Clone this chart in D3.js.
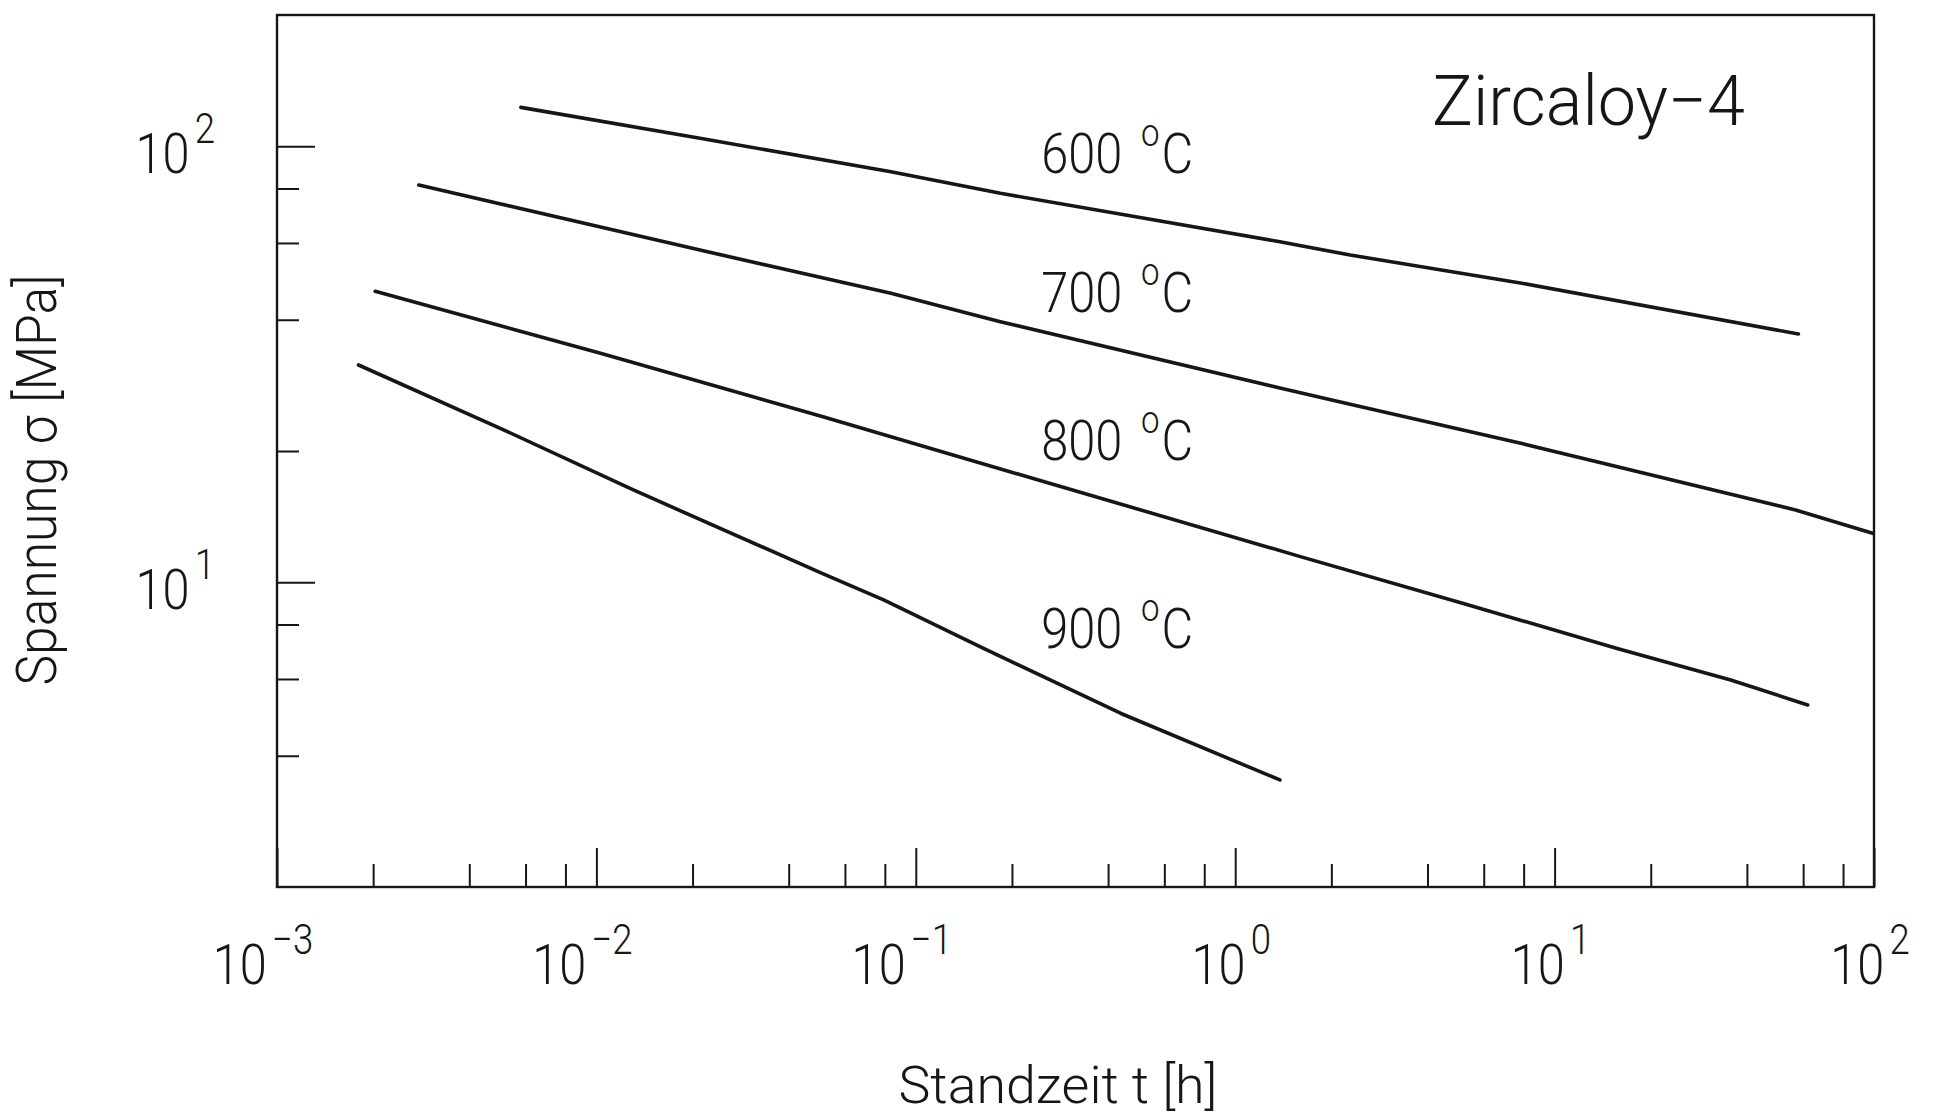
<!DOCTYPE html>
<html>
<head>
<meta charset="utf-8">
<script src="https://cdn.jsdelivr.net/npm/d3@7"></script>
<style>
  html, body { margin: 0; padding: 0; background: #fff; }
  svg { display: block; }
  text { font-family: Roboto, "Liberation Sans", sans-serif; font-weight: 300; fill: #161616; }
</style>
</head>
<body>
<svg id="chart" width="1937" height="1117"></svg>
<script>
// Creep rupture curves of Zircaloy-4: stress versus time to rupture
const material = "Zircaloy\u22124";
const temperatures = ["600", "700", "800", "900"];

// time to rupture t [h] and stress σ [MPa] along each isotherm
const time600   = [0.0058, 0.0211, 0.0836, 0.184, 1.38, 2.29, 7.9, 58];
const stress600 = [122.8, 104.3, 87.4, 78.0, 60.4, 56.3, 48.5, 37.1];

const time700   = [0.00278, 0.0211, 0.0836, 0.184, 1.38, 2.29, 7.9, 56.8, 99];
const stress700 = [81.5, 57.8, 46.0, 39.6, 27.9, 25.6, 20.8, 14.65, 12.95];

const time800   = [0.00203, 0.0103, 0.0509, 0.239, 1.6, 5.15, 15.7, 35.6, 62];
const stress800 = [46.5, 33.5, 24.0, 17.2, 11.45, 8.95, 7.05, 5.97, 5.23];

const time900   = [0.0018, 0.005, 0.013, 0.0509, 0.0793, 0.163, 0.439, 1.38];
const stress900 = [31.5, 22.55, 16.3, 10.48, 9.11, 7.05, 5.0, 3.52];

// where each isotherm is labelled (t, σ of the label baseline start)
const labelTime = 0.247;
const labelStress = [87, 41.6, 19.07, 7.05];

// axes
const xDomain = [1e-3, 1e2];
const yDomain = [2, 200];
const xMajorTicks = [1e-3, 1e-2, 1e-1, 1, 10, 100];
const xTickExponents = ["\u22123", "\u22122", "\u22121", "0", "1", "2"];
const xMinorTicks = [2e-3, 4e-3, 6e-3, 8e-3, 2e-2, 4e-2, 6e-2, 8e-2,
                     0.2, 0.4, 0.6, 0.8, 2, 4, 6, 8, 20, 40, 60, 80];
const yMajorTicks = [10, 100];
const yTickExponents = ["1", "2"];
const yMinorTicks = [4, 6, 8, 20, 40, 60, 80];
const xTitle = "Standzeit t [h]";
const yTitle = "Spannung \u03c3 [MPa]";

const series = [
  { name: temperatures[0], t: time600, s: stress600 },
  { name: temperatures[1], t: time700, s: stress700 },
  { name: temperatures[2], t: time800, s: stress800 },
  { name: temperatures[3], t: time900, s: stress900 }
];

const margin = { left: 277, top: 15, right: 63, bottom: 230 };
const W = 1937, H = 1117;
const iw = W - margin.left - margin.right;
const ih = H - margin.top - margin.bottom;

const svg = d3.select("#chart");
const g = svg.append("g").attr("transform", `translate(${margin.left},${margin.top})`);

const x = d3.scaleLog().domain(xDomain).range([0, iw]);
const y = d3.scaleLog().domain(yDomain).range([ih, 0]);

const ink = "#161616";
const numScale = 0.87;   // digits are set slightly condensed

// inward-pointing ticks on the bottom and left axes
function tickAxis(axis, transform) {
  const a = g.append("g").attr("transform", transform).call(axis);
  a.select(".domain").remove();
  a.selectAll(".tick line").attr("stroke", ink).attr("stroke-width", 2);
  a.selectAll(".tick text").remove();
  return a;
}
tickAxis(d3.axisBottom(x).tickValues(xMajorTicks).tickSizeInner(-39).tickSizeOuter(0), `translate(0,${ih})`);
tickAxis(d3.axisBottom(x).tickValues(xMinorTicks).tickSizeInner(-23).tickSizeOuter(0), `translate(0,${ih})`);
tickAxis(d3.axisLeft(y).tickValues(yMajorTicks).tickSizeInner(-38).tickSizeOuter(0), "translate(0,0)");
tickAxis(d3.axisLeft(y).tickValues(yMinorTicks).tickSizeInner(-22).tickSizeOuter(0), "translate(0,0)");

// frame
g.append("rect")
  .attr("x", 0).attr("y", 0).attr("width", iw).attr("height", ih)
  .attr("fill", "none").attr("stroke", ink).attr("stroke-width", 2.4);

// power-of-ten tick labels
function powerLabel(parent, tx, ty, exp, anchor) {
  const t = parent.append("text")
    .attr("transform", `translate(${tx},${ty}) scale(${numScale},1)`)
    .attr("text-anchor", anchor);
  t.append("tspan").attr("font-size", 56).text("10");
  t.append("tspan").attr("font-size", 42).attr("dy", -30).attr("dx", 6).text(exp);
  return t;
}
xMajorTicks.forEach((v, i) => {
  const shift = v < 1 ? -14 : -4;
  powerLabel(g, x(v) + shift, ih + 97, xTickExponents[i], "middle");
});
yMajorTicks.forEach((v, i) => {
  powerLabel(g, -62, y(v) + 26.5, yTickExponents[i], "end");
});

// isotherms
const line = d3.line()
  .x(d => x(d[0]))
  .y(d => y(d[1]));

g.selectAll("path.curve")
  .data(series)
  .join("path")
  .attr("class", "curve")
  .attr("d", d => line(d.t.map((tv, i) => [tv, d.s[i]])))
  .attr("fill", "none")
  .attr("stroke", ink)
  .attr("stroke-width", 3.6)
  .attr("stroke-linejoin", "round")
  .attr("stroke-linecap", "round");

// temperature labels
series.forEach((d, i) => {
  const t = g.append("text")
    .attr("transform", `translate(${x(labelTime)},${y(labelStress[i])}) scale(${numScale},1)`);
  t.append("tspan").attr("font-size", 56).text(d.name + " ");
  t.append("tspan").attr("font-size", 38).attr("dy", -27).attr("dx", 8).text("o");
  t.append("tspan").attr("font-size", 56).attr("dy", 27).attr("dx", 2).text("C");
});

// material name
g.append("text")
  .attr("x", 1432 - margin.left)
  .attr("y", 125 - margin.top)
  .attr("font-size", 70)
  .attr("textLength", 313)
  .attr("lengthAdjust", "spacingAndGlyphs")
  .text(material);

// axis titles
svg.append("text")
  .attr("x", 1058).attr("y", 1103)
  .attr("text-anchor", "middle")
  .attr("font-size", 52)
  .attr("textLength", 319)
  .attr("lengthAdjust", "spacingAndGlyphs")
  .text(xTitle);

svg.append("text")
  .attr("transform", "translate(56,480) rotate(-90)")
  .attr("text-anchor", "middle")
  .attr("font-size", 56)
  .attr("textLength", 411)
  .attr("lengthAdjust", "spacingAndGlyphs")
  .text(yTitle);
</script>
</body>
</html>
